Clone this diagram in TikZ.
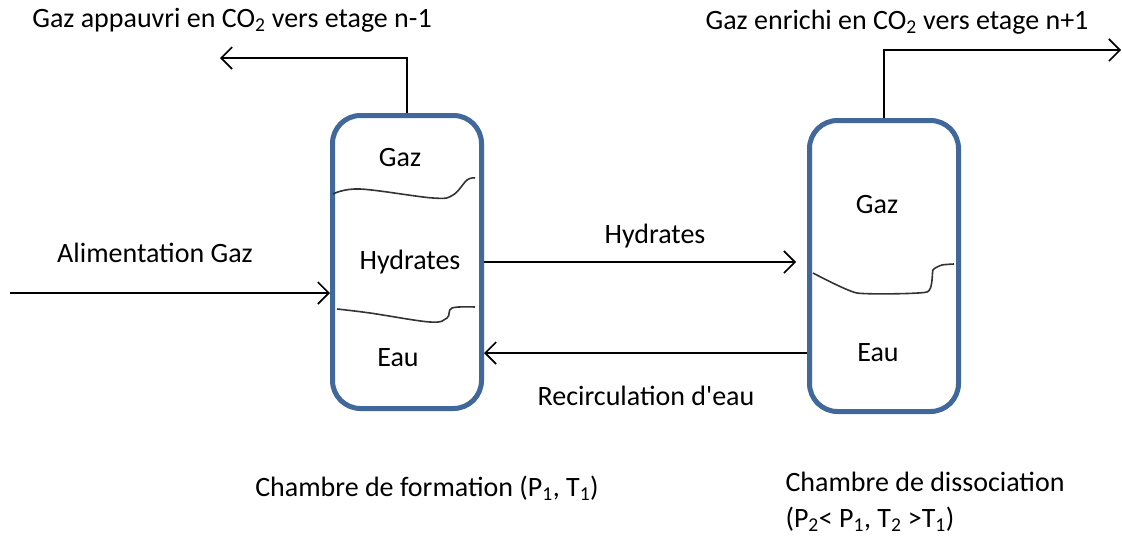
\documentclass[tikz,border=0pt]{standalone}
\usepackage{fontspec}
\setmainfont{Carlito}
\usetikzlibrary{arrows.meta}
\definecolor{vesselblue}{RGB}{65,104,155}

\begin{document}
\begin{tikzpicture}[x=1pt,y=-1pt,font=\fontsize{28}{36}\selectfont,
		vessel/.style={draw=vesselblue,line width=5pt,rounded corners=28pt,inner sep=0pt},
		flow/.style={line width=1.6pt,-{Straight Barb[length=11pt,width=22pt,line width=1.6pt]}},
		wave/.style={line width=1.6pt,black!80}]
			\useasboundingbox (0,0) rectangle (1122,536);
			
			\node[vessel,minimum width=149pt,minimum height=293pt] (formation) at (407,262) {};
			\node[vessel,minimum width=149pt,minimum height=291pt] (dissociation) at (884,266) {};
			
			% phases, chambre de formation
			\node (gazF) at (400,158) {Gaz};
			\node (hydF) at (410,262) {Hydrates};
			\node (eauF) at (398,358) {Eau};
			\draw[wave] plot[smooth,tension=0.6] coordinates {(333,194) (360,189) (433,198) (453,195) (467,180) (475,178)};
			\draw[wave] plot[smooth,tension=0.6] coordinates {(337,309) (370,313) (430,322) (447,318) (452,308) (475,307)};
			
			% phases, chambre de dissociation
			\node (gazD) at (877,205) {Gaz};
			\node (eauD) at (878,353) {Eau};
			\draw[wave] plot[smooth,tension=0.3] coordinates {(813,273) (857,293) (927,292) (933,270) (942,265) (954,264)};
			
			% sorties gaz
			\coordinate (outF) at (220,58);
			\coordinate (outD) at (1121,50);
			\draw[flow] (formation.north) -- (formation.north |- outF) -- (outF);
			\draw[flow] (dissociation.north) -- (dissociation.north |- outD) -- (outD);
			\node (labelF) at (232,20) {Gaz appauvri en CO\textsubscript{2} vers etage n-1};
			\node (labelD) at (897,22) {Gaz enrichi en CO\textsubscript{2} vers etage n+1};
			
			% alimentation et echanges
			\coordinate (feed) at (10,293);
			\draw[flow] (feed) -- (feed -| formation.west);
			\node (feedlabel) at (155,253) {Alimentation Gaz};
			
			\coordinate (hydin) at (796,262);
			\draw[flow] (formation.east |- hydin) -- (hydin);
			\node (hydlabel) at (655,236) {Hydrates};
			
			\coordinate (recirc) at (484,353);
			\draw[flow,line width=2.6pt] (dissociation.west |- recirc) -- (recirc);
			\node (recirclabel) at (646,396) {Recirculation d\textquotesingle eau};
			
			\node (chambreF) at (427,488) {Chambre de formation (P\textsubscript{1}, T\textsubscript{1})};
			\node[anchor=west,align=left] (chambreD) at (782,502) {Chambre de dissociation\\(P\textsubscript{2}< P\textsubscript{1}, T\textsubscript{2} >T\textsubscript{1})};
			\end{tikzpicture}
\end{document}
